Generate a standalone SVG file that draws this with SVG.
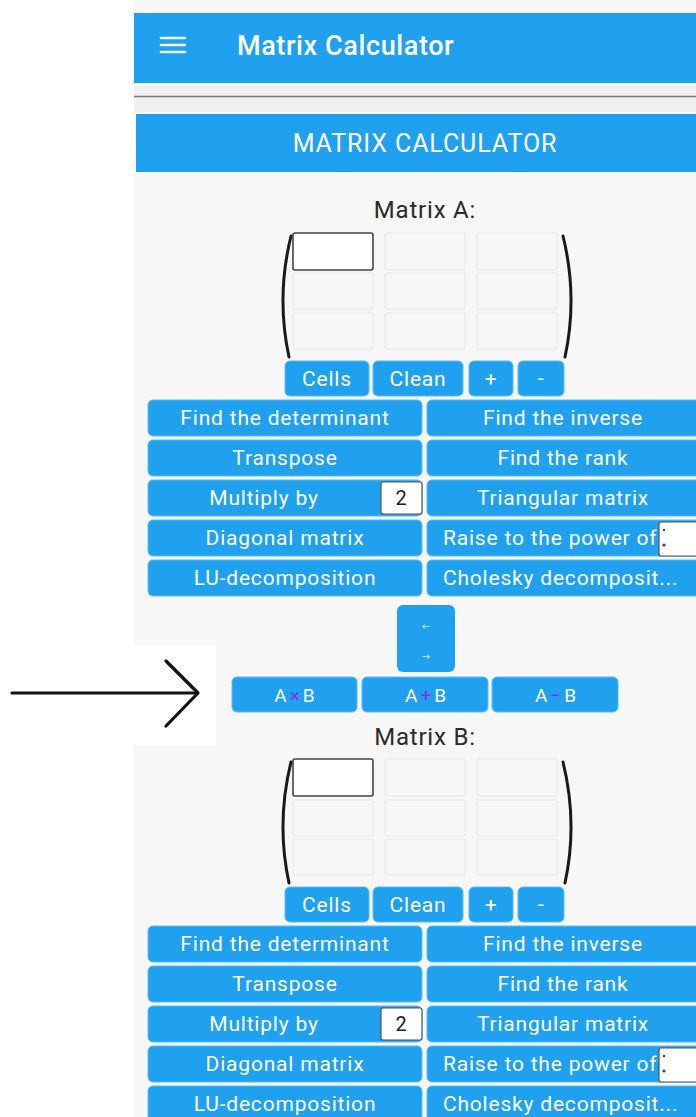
<svg xmlns="http://www.w3.org/2000/svg" width="696" height="1117" viewBox="0 0 696 1117">
  <style>
    .bar { fill: #1fa1ef; }
    .btn { fill: #1fa1ef; stroke: #5bbcf3; stroke-width: 1; }
    .bt { font-family: Roboto, "Liberation Sans", sans-serif; font-size: 21px; fill: #ffffff; text-anchor: middle; letter-spacing: 0.8px; }
    .st { text-anchor: start; }
    .ab { font-size: 19px; letter-spacing: 3px; }
    .lbl { font-family: Roboto, "Liberation Sans", sans-serif; font-size: 24px; fill: #2b2b2b; text-anchor: middle; letter-spacing: 0.8px; }
    .cell { fill: none; stroke: #e6e6e6; stroke-width: 1; }
    .cell0 { fill: #ffffff; stroke: #444444; stroke-width: 1.6; }
    .paren { fill: none; stroke: #1a1a1a; stroke-width: 3; stroke-linecap: round; }
    .inp { fill: #ffffff; stroke: #555555; stroke-width: 1.2; }
    .op { fill: #8a2be2; }
  </style>

  <!-- page background -->
  <rect x="0" y="0" width="696" height="1117" fill="#ffffff"/>
  <rect x="134" y="0" width="562" height="1117" fill="#f7f7f7"/>

  <!-- app bar -->
  <g id="appbar">
    <rect x="134" y="13" width="562" height="70" class="bar"/>
    <g stroke="#ffffff" stroke-width="2.6" stroke-linecap="round" opacity="0.95">
      <line x1="161" y1="38" x2="185" y2="38"/>
      <line x1="161" y1="45" x2="185" y2="45"/>
      <line x1="161" y1="52" x2="185" y2="52"/>
    </g>
    <text x="237" y="55" font-family="Roboto, 'Liberation Sans', sans-serif" font-size="27" font-weight="500" fill="#ffffff" letter-spacing="0.6">Matrix Calculator</text>
  </g>

  <!-- divider -->
  <rect x="134" y="86" width="562" height="26" fill="#efefef"/>
  <line x1="134" y1="96.5" x2="696" y2="96.5" stroke="#7a7a7a" stroke-width="1.5"/>

  <!-- title banner -->
  <g id="banner">
    <rect x="136" y="114" width="560" height="58" class="bar"/>
    <text x="425" y="152" font-family="Roboto, 'Liberation Sans', sans-serif" font-size="25" fill="#ffffff" text-anchor="middle" letter-spacing="0.9">MATRIX CALCULATOR</text>
  </g>

  <!-- ===== Matrix A ===== -->
  <g id="matrixA">
    <text x="425" y="218" class="lbl">Matrix A:</text>
    <path class="paren" d="M291,236 Q276,297 289,357"/>
    <path class="paren" d="M563,236 Q578,297 565,357"/>
    <rect x="293" y="233" width="80" height="37" rx="2" class="cell0"/>
    <rect x="385" y="233" width="80" height="37" rx="2" class="cell"/>
    <rect x="477" y="233" width="80" height="37" rx="2" class="cell"/>
    <rect x="293" y="273" width="80" height="36" rx="2" class="cell"/>
    <rect x="385" y="273" width="80" height="36" rx="2" class="cell"/>
    <rect x="477" y="273" width="80" height="36" rx="2" class="cell"/>
    <rect x="293" y="313" width="80" height="36" rx="2" class="cell"/>
    <rect x="385" y="313" width="80" height="36" rx="2" class="cell"/>
    <rect x="477" y="313" width="80" height="36" rx="2" class="cell"/>
  </g>

  <g id="toolsA">
    <rect x="285" y="361" width="84" height="35" rx="5" class="btn"/>
    <text x="327" y="386" class="bt">Cells</text>
    <rect x="373" y="361" width="90" height="35" rx="5" class="btn"/>
    <text x="418" y="386" class="bt">Clean</text>
    <rect x="469" y="361" width="44" height="35" rx="5" class="btn"/>
    <text x="491" y="386" class="bt">+</text>
    <rect x="518" y="361" width="46" height="35" rx="5" class="btn"/>
    <text x="541" y="385" class="bt">-</text>
  </g>

  <g id="opsA">
    <rect x="148" y="400" width="274" height="36" rx="5" class="btn"/>
    <text x="285" y="425" class="bt">Find the determinant</text>
    <rect x="427" y="400" width="275" height="36" rx="5" class="btn"/>
    <text x="563" y="425" class="bt">Find the inverse</text>

    <rect x="148" y="440" width="274" height="36" rx="5" class="btn"/>
    <text x="285" y="465" class="bt">Transpose</text>
    <rect x="427" y="440" width="275" height="36" rx="5" class="btn"/>
    <text x="563" y="465" class="bt">Find the rank</text>

    <rect x="148" y="480" width="274" height="36" rx="5" class="btn"/>
    <text x="264" y="505" class="bt">Multiply by</text>
    <rect x="381" y="482" width="41" height="32" rx="2" class="inp"/>
    <text x="401" y="505" font-family="Roboto, 'Liberation Sans', sans-serif" font-size="20" fill="#222222" text-anchor="middle">2</text>
    <rect x="427" y="480" width="275" height="36" rx="5" class="btn"/>
    <text x="563" y="505" class="bt">Triangular matrix</text>

    <rect x="148" y="520" width="274" height="36" rx="5" class="btn"/>
    <text x="285" y="545" class="bt">Diagonal matrix</text>
    <rect x="427" y="520" width="275" height="36" rx="5" class="btn"/>
    <text x="443" y="545" class="bt st">Raise to the power of</text>
    <rect x="659" y="522" width="40" height="34" rx="2" class="inp"/>
    <g fill="#444444"><circle cx="664" cy="530" r="1.2"/><circle cx="664" cy="545" r="1.6"/></g>

    <rect x="148" y="560" width="274" height="36" rx="5" class="btn"/>
    <text x="285" y="585" class="bt">LU-decomposition</text>
    <rect x="427" y="560" width="275" height="36" rx="5" class="btn"/>
    <text x="443" y="585" class="bt st">Cholesky decomposit...</text>
  </g>

  <!-- ===== A/B combination ===== -->
  <rect x="0" y="645" width="216" height="100" fill="#ffffff"/>

  <g id="swap">
    <rect x="397" y="605" width="58" height="67" rx="6" class="bar"/>
    <text x="426" y="630" font-family="'DejaVu Sans', sans-serif" font-size="10" fill="#cfe9fb" text-anchor="middle">←</text>
    <text x="426" y="660" font-family="'DejaVu Sans', sans-serif" font-size="10" fill="#cfe9fb" text-anchor="middle">→</text>
  </g>

  <g id="combine">
    <rect x="232" y="677" width="125" height="35" rx="5" class="btn"/>
    <text x="296" y="702" class="bt ab">A<tspan class="op">×</tspan>B</text>
    <rect x="362" y="677" width="126" height="35" rx="5" class="btn"/>
    <text x="427" y="702" class="bt ab">A<tspan class="op">+</tspan>B</text>
    <rect x="492" y="677" width="126" height="35" rx="5" class="btn"/>
    <text x="557" y="702" class="bt ab">A<tspan class="op">−</tspan>B</text>
  </g>

  <g id="connectors">
    <line x1="12" y1="693" x2="197" y2="693" stroke="#111111" stroke-width="3.2" stroke-linecap="round"/>
    <polyline points="166,661 198,693 166,726" fill="none" stroke="#111111" stroke-width="3.2" stroke-linecap="round" stroke-linejoin="round"/>
  </g>

  <!-- ===== Matrix B ===== -->
  <g id="matrixB">
    <text x="425" y="745" class="lbl">Matrix B:</text>
    <path class="paren" d="M291,762 Q276,823 289,883"/>
    <path class="paren" d="M563,762 Q578,823 565,883"/>
    <rect x="293" y="759" width="80" height="37" rx="2" class="cell0"/>
    <rect x="385" y="759" width="80" height="37" rx="2" class="cell"/>
    <rect x="477" y="759" width="80" height="37" rx="2" class="cell"/>
    <rect x="293" y="800" width="80" height="36" rx="2" class="cell"/>
    <rect x="385" y="800" width="80" height="36" rx="2" class="cell"/>
    <rect x="477" y="800" width="80" height="36" rx="2" class="cell"/>
    <rect x="293" y="839" width="80" height="36" rx="2" class="cell"/>
    <rect x="385" y="839" width="80" height="36" rx="2" class="cell"/>
    <rect x="477" y="839" width="80" height="36" rx="2" class="cell"/>
  </g>

  <g id="toolsB">
    <rect x="285" y="887" width="84" height="35" rx="5" class="btn"/>
    <text x="327" y="912" class="bt">Cells</text>
    <rect x="373" y="887" width="90" height="35" rx="5" class="btn"/>
    <text x="418" y="912" class="bt">Clean</text>
    <rect x="469" y="887" width="44" height="35" rx="5" class="btn"/>
    <text x="491" y="912" class="bt">+</text>
    <rect x="518" y="887" width="46" height="35" rx="5" class="btn"/>
    <text x="541" y="911" class="bt">-</text>
  </g>

  <g id="opsB">
    <rect x="148" y="926" width="274" height="36" rx="5" class="btn"/>
    <text x="285" y="951" class="bt">Find the determinant</text>
    <rect x="427" y="926" width="275" height="36" rx="5" class="btn"/>
    <text x="563" y="951" class="bt">Find the inverse</text>

    <rect x="148" y="966" width="274" height="36" rx="5" class="btn"/>
    <text x="285" y="991" class="bt">Transpose</text>
    <rect x="427" y="966" width="275" height="36" rx="5" class="btn"/>
    <text x="563" y="991" class="bt">Find the rank</text>

    <rect x="148" y="1006" width="274" height="36" rx="5" class="btn"/>
    <text x="264" y="1031" class="bt">Multiply by</text>
    <rect x="381" y="1008" width="41" height="32" rx="2" class="inp"/>
    <text x="401" y="1031" font-family="Roboto, 'Liberation Sans', sans-serif" font-size="20" fill="#222222" text-anchor="middle">2</text>
    <rect x="427" y="1006" width="275" height="36" rx="5" class="btn"/>
    <text x="563" y="1031" class="bt">Triangular matrix</text>

    <rect x="148" y="1046" width="274" height="36" rx="5" class="btn"/>
    <text x="285" y="1071" class="bt">Diagonal matrix</text>
    <rect x="427" y="1046" width="275" height="36" rx="5" class="btn"/>
    <text x="443" y="1071" class="bt st">Raise to the power of</text>
    <rect x="659" y="1048" width="40" height="34" rx="2" class="inp"/>
    <g fill="#444444"><circle cx="664" cy="1056" r="1.2"/><circle cx="664" cy="1071" r="1.6"/></g>

    <rect x="148" y="1086" width="274" height="36" rx="5" class="btn"/>
    <text x="285" y="1111" class="bt">LU-decomposition</text>
    <rect x="427" y="1086" width="275" height="36" rx="5" class="btn"/>
    <text x="443" y="1111" class="bt st">Cholesky decomposit...</text>
  </g>
</svg>
